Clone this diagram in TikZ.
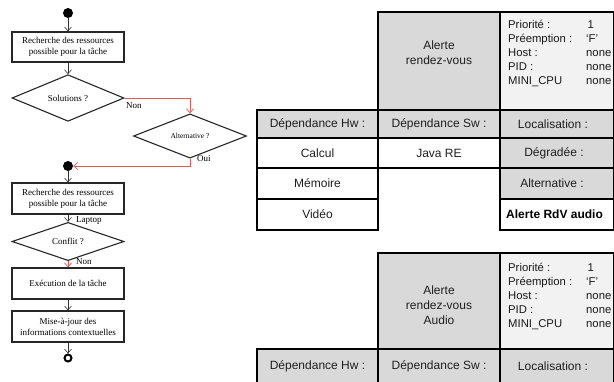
\documentclass[tikz,border=0pt]{standalone}
\usepackage{fontspec}
\setmainfont{Liberation Serif}
\newfontfamily\arialf{Liberation Sans}
\usetikzlibrary{shapes.geometric,arrows.meta}
\definecolor{fred}{RGB}{224,88,88}
\definecolor{cgray}{RGB}{217,217,217}
\definecolor{clight}{RGB}{242,242,242}
\begin{document}
\begin{tikzpicture}[x=1pt,y=-1pt,
  fbox/.style={draw=black!85, line width=1.2pt, minimum width=112pt, minimum height=31pt, inner sep=1pt, align=center, font=\fontsize{9}{11}\selectfont},
  fdia/.style={diamond, draw=black!85, line width=1.1pt, minimum width=112pt, minimum height=31pt, inner sep=0pt, font=\fontsize{9}{11}\selectfont},
  dot/.style={circle, fill=black, minimum size=10pt, inner sep=0pt},
  farr/.style={draw=black!80, line width=0.6pt, -{Straight Barb[length=4pt,width=7pt]}},
  rarr/.style={draw=fred, line width=0.7pt, -{Straight Barb[length=4pt,width=7pt]}},
  lbl/.style={font=\fontsize{9}{11}\selectfont, inner sep=1pt},
  cellg/.style={fill=cgray, draw=black, line width=2pt},
  celll/.style={fill=clight, draw=black, line width=2pt},
  cellw/.style={fill=white, draw=black, line width=2pt},
  tt/.style={font=\arialf\fontsize{12}{15}\selectfont, text=black!88, align=center, inner sep=0pt},
  ti/.style={font=\arialf\fontsize{11.3}{14}\selectfont, text=black!90, align=left, inner sep=0pt}
]
\useasboundingbox (0,0) rectangle (614,381);

% ---------------- flowchart ----------------
\node[dot] (s) at (68,13) {};
\node[fbox, minimum height=30pt] (b1) at (68,47) {Recherche des ressources\\possible pour la tâche};
\node[fdia, minimum height=30pt] (d1) at (68,98) {Solutions ?};
\node[fdia, minimum width=113pt, minimum height=32pt, font=\fontsize{7.5}{9}\selectfont] (d2) at (190,136) {Alternative ?};
\node[dot] (m) at (68,166) {};
\node[fbox] (b2) at (68,198.5) {Recherche des ressources\\possible pour la tâche};
\node[fdia] (d3) at (68,241.5) {Conflit ?};
\node[fbox] (b3) at (68,283.5) {Exécution de la tâche};
\node[fbox] (b4) at (68,326.5) {Mise-à-jour des\\informations contextuelles};
\node[circle, draw=black, line width=2pt, minimum size=7pt, inner sep=0pt] (e) at (68,358) {};

\draw[farr] (s) -- (b1);
\draw[farr] (b1) -- (d1);
\draw[rarr] (d1.east) -| (d2.north);
\node[lbl, anchor=north west] (lnon1) at (125,101) {Non};
\draw[rarr] (d2.south) |- (m.east);
\node[lbl, anchor=west] (loui) at (196,159) {Oui};
\draw[farr] (m) -- (b2);
\draw[farr] (b2) -- (d3);
\node[lbl, anchor=west] (llap) at (75,221) {Laptop};
\draw[rarr] (d3) -- (b3);
\node[lbl, anchor=west] (lnon2) at (75,262) {Non};
\draw[farr] (b3) -- (b4);
\draw[farr] (b4) -- (e);

% ---------------- table 1 ----------------
\filldraw[cellg] (378,12) rectangle (500,110);
\filldraw[celll] (500,12) rectangle (614,110);
\filldraw[cellg] (257,110) rectangle (378,138);
\filldraw[cellg] (378,110) rectangle (500,138);
\filldraw[cellg] (500,110) rectangle (614,138);
\filldraw[cellw] (257,138) rectangle (378,168);
\filldraw[cellw] (378,138) rectangle (500,168);
\filldraw[cellg] (500,138) rectangle (614,168);
\filldraw[cellw] (257,168) rectangle (378,199);
\filldraw[cellg] (500,168) rectangle (614,199);
\filldraw[cellw] (257,199) rectangle (378,230);
\filldraw[cellw] (500,199) rectangle (614,230);

\node[tt] (t1a) at (439,52.5) {Alerte\\rendez-vous};
\node[ti, anchor=north west] (t1i) at (508,20) {%
\makebox[78pt][l]{Priorité :}\hspace{1.5pt}1\\
\makebox[78pt][l]{Préemption :}‘F’\\
\makebox[78pt][l]{Host :}none\\
\makebox[78pt][l]{PID :}none\\
\makebox[78pt][l]{MINI\_CPU}none};
\node[tt] (t1hw) at (317.5,124) {Dépendance Hw :};
\node[tt] (t1sw) at (439,124) {Dépendance Sw :};
\node[tt] (t1lo) at (553,124) {Localisation :};
\node[tt] (t1c) at (317.5,153) {Calcul};
\node[tt] (t1j) at (439,153) {Java RE};
\node[tt] (t1d) at (554,153) {Dégradée :};
\node[tt] (t1m) at (317.5,183.5) {Mémoire};
\node[tt] (t1al) at (552,183.5) {Alternative :};
\node[tt] (t1v) at (317.5,214.5) {Vidéo};
\node[tt, anchor=west, font=\arialf\bfseries\fontsize{12}{15}\selectfont, text=black] (t1r) at (506,214.5) {Alerte RdV audio};

% ---------------- table 2 ----------------
\filldraw[cellg] (378,253) rectangle (500,349);
\filldraw[celll] (500,253) rectangle (614,349);
\filldraw[cellg] (257,349) rectangle (378,384);
\filldraw[cellg] (378,349) rectangle (500,384);
\filldraw[cellg] (500,349) rectangle (614,384);

\node[tt] (t2a) at (439,305) {Alerte\\rendez-vous\\Audio};
\node[ti, anchor=north west] (t2i) at (508,262.5) {%
\makebox[78pt][l]{Priorité :}\hspace{1.5pt}1\\
\makebox[78pt][l]{Préemption :}‘F’\\
\makebox[78pt][l]{Host :}none\\
\makebox[78pt][l]{PID :}none\\
\makebox[78pt][l]{MINI\_CPU}none};
\node[tt] (t2hw) at (317.5,366) {Dépendance Hw :};
\node[tt] (t2sw) at (439,366) {Dépendance Sw :};
\node[tt] (t2lo) at (553,366) {Localisation :};
\end{tikzpicture}
\end{document}
